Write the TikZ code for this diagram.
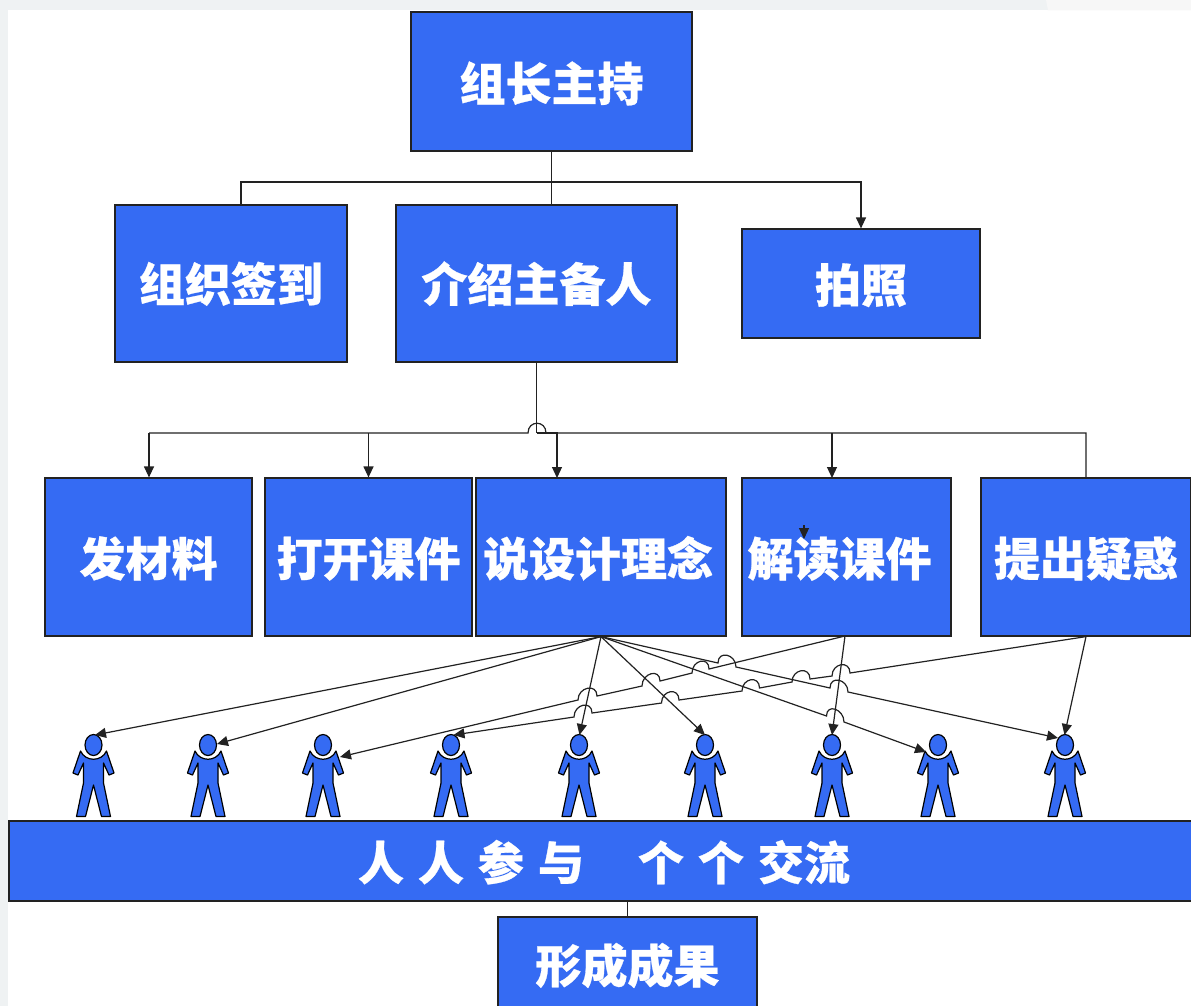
\documentclass[tikz,border=0pt]{standalone}
\usepackage{fontspec}
\newfontfamily\cjk{Noto Sans CJK SC}[BoldFeatures={FakeBold=0.6}]
\usetikzlibrary{arrows.meta,calc,shapes.geometric}
\definecolor{bluebox}{HTML}{356BF3}
\definecolor{inkline}{HTML}{222222}
\definecolor{pagegray}{HTML}{EFF2F3}
\definecolor{pagelight}{HTML}{F7F7F7}
\tikzset{
  labelbox/.style={draw=inkline,line width=1.2pt,fill=bluebox,text=white,inner sep=0pt,
    text height=35pt,text depth=0pt,
    font=\cjk\bfseries\fontsize{46}{50}\selectfont},
  wire/.style={draw=inkline,line width=1.2pt},
  arrowed/.style={wire,-{Triangle[length=11pt,width=10pt]}},
  jump/.style={to path={.. controls ($(\tikztostart)+(0,-13)$) and ($(\tikztotarget)+(0,-13)$) .. (\tikztotarget)}},
  head/.style={ellipse,draw=black,line width=1.2pt,fill=bluebox,minimum width=17pt,minimum height=21pt,inner sep=0pt},
  person/.pic={
    \path[draw=black,line width=1.2pt,fill=bluebox,line join=round]
      (-13,6) .. controls (-8,17) and (8,17) .. (13,6) -- (20.5,28) -- (15.5,30) -- (10,18) -- (10,38)
      -- (17,71.5) -- (8,71.5) -- (0,40) -- (-8,71.5) -- (-17,71.5) -- (-10,38) -- (-10,18)
      -- (-15.5,30) -- (-20.5,28) -- cycle;
  }
}
% name, x1, y1, x2, y2, text dx, text dy (downward), text
\newcommand{\lbox}[8]{\node[labelbox,minimum width=#4pt-#2pt,minimum height=#5pt-#3pt] (#1) at ({(#2+#4)/2},{(#3+#5)/2}) {\hspace*{#6pt}\raisebox{-#7pt}[0pt][0pt]{#8}};}
\begin{document}
\begin{tikzpicture}[x=1pt,y=-1pt]
\clip (0,0) rectangle (1191,1006);
\fill[white] (0,0) rectangle (1192,1007);
\fill[pagegray] (0,0) rectangle (1192,10.3);
\fill[pagegray] (0,0) rectangle (8.3,1007);
\fill[pagelight] (1046,0) -- (1192,0) -- (1192,10.3) -- (1048,10.3) -- cycle;

\lbox{chair}{411}{12}{692}{151}{0}{2}{组长主持}
\lbox{signin}{115}{205}{347}{362}{0}{0.5}{组织签到}
\lbox{intro}{396}{205}{677}{362}{0}{0.5}{介绍主备人}
\lbox{photo}{742}{229}{980}{338}{0}{1.5}{拍照}
\lbox{hand}{45}{478}{252}{636}{0}{1.5}{发材料}
\lbox{open}{265}{478}{472}{636}{0}{1.5}{打开课件}
\lbox{idea}{476}{478}{726}{636}{-6}{1.5}{说设计理念}
\lbox{read}{742}{478}{951}{636}{-14}{1.5}{解读课件}
\lbox{ask}{981}{478}{1191}{636}{0}{1.5}{提出疑惑}
\lbox{band}{9}{821}{1199}{901}{0}{1.5}{人\hspace{14pt}人\hspace{14pt}参\hspace{14pt}与\hspace{54pt}个\hspace{14pt}个\hspace{14pt}交流}
\lbox{result}{498}{917}{757}{1020}{0}{-3}{形成成果}

\foreach \n/\x in {1/93.5,2/208,3/323,4/451,5/579,6/705,7/832,8/938,9/1065}{
  \pic at (\x,745) {person};
  \node[head] (h\n) at (\x,745) {};
}

% top tree
\coordinate (t) at (551.5,182);
\draw[wire] (chair.south) -- (chair.south |- intro.north);
\draw[wire] (241,205) coordinate (sl) |- (t);
\draw[arrowed] (t) -| (photo.north);

% second tree
\coordinate (bus) at (intro.south |- 0,433);
\coordinate (jl) at (528,433);
\coordinate (jr) at (546,433);
\draw[wire] (intro.south) -- (bus);
\draw[wire] (149,433) coordinate (bl) -- (jl) to[jump] (jr) -- (1086,433) -- (ask.north);
\draw[arrowed] (bl) -- (bl |- hand.north);
\draw[arrowed] (open.north |- bus) -- (open.north);
\draw[arrowed] (bus) -- (557,433) -- (557,478);
\draw[arrowed] (832,433) -- (832,478);
\draw[arrowed] (804,525) -- (804,539);

% lower connectors
\coordinate (s) at (idea.south);
\coordinate (r) at (845,636);
\coordinate (a) at (ask.south);
\draw[arrowed] (s) -- (95,735);
\draw[arrowed] (s) -- (217,744);
\draw[arrowed] (s) -- (579.5,735);
\draw[arrowed] (s) -- (705,735);
\draw[arrowed] (s) -- (718,663) to[jump] (736,667) -- (830,688) to[jump] (848,692) -- (1058,738);
\draw[arrowed] (s) -- (826.5,716) to[jump] (844,722) -- (926,752);
\draw[arrowed] (r) -- (832,735);
\draw[arrowed] (r) -- (709,669) to[jump] (692,673) -- (660,681) to[jump] (642,686) -- (597,696) to[jump] (578,700) -- (340,757);
\draw[arrowed] (a) -- (850,673) to[jump] (832,676) -- (810,679) to[jump] (792,682) -- (759.5,688) to[jump] (742,691) -- (679,700) to[jump] (661.5,703) -- (592,713) to[jump] (574,717) -- (453.5,735);
\draw[arrowed] (a) -- (1064.5,735);

\draw[wire] (band.south -| result.north) -- (result.north);
\end{tikzpicture}
\end{document}
